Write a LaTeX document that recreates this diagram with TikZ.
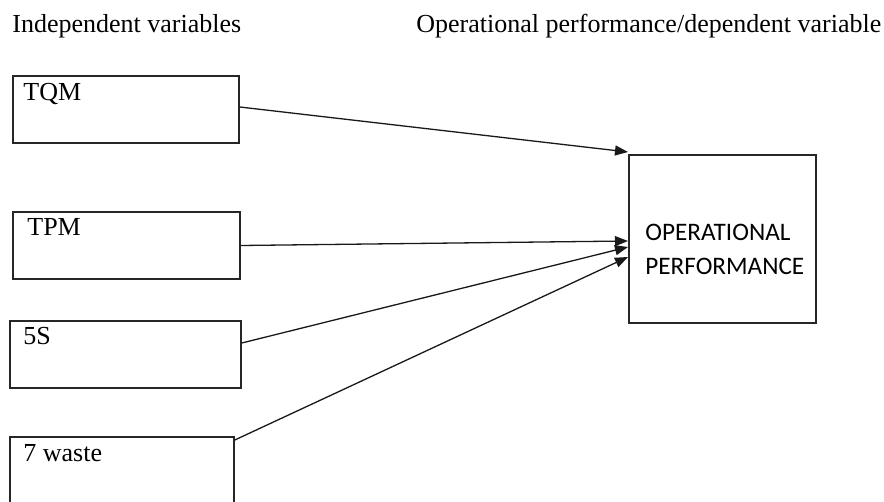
\documentclass[tikz,border=0pt]{standalone}
\usepackage{fontspec}
\setmainfont{Liberation Serif}
\newfontfamily\calib{Carlito}
\usetikzlibrary{arrows.meta}
\begin{document}
\begin{tikzpicture}[x=0.5pt,y=-0.5pt,
  varbox/.style={draw=black!85,line width=0.8pt,rectangle,inner sep=0pt},
  lbl/.style={anchor=base west,inner sep=0pt,font=\fontsize{13}{15}\selectfont},
  conn/.style={draw=black!90,line width=0.65pt,-{Triangle[length=6.5pt,width=5pt]}}]
\clip (0,0) rectangle (884,502);
\fill[white] (0,0) rectangle (884,502);
% titles
\node[lbl] (t1) at (12,33) {Independent variables};
\node[lbl] (t2) at (416,33) {Operational performance/dependent variable};
% boxes
\node[varbox,minimum width=113pt,minimum height=33.5pt] (tqm) at (126,109.5) {};
\node[varbox,minimum width=113.5pt,minimum height=33.5pt] (tpm) at (126.5,245.5) {};
\node[varbox,minimum width=115.5pt,minimum height=33.5pt] (fives) at (125.5,354.5) {};
\node[varbox,minimum width=112pt,minimum height=36pt] (waste) at (122,473) {};
\node[varbox,minimum width=93.5pt,minimum height=84pt] (op) at (722.5,239) {};
% labels
\node[lbl] (l1) at (23,101) {TQM};
\node[lbl] (l2) at (27,236) {TPM};
\node[lbl] (l3) at (23,345) {5S};
\node[lbl] (l4) at (23,461) {7 waste};
\node[inner sep=0pt,align=left,anchor=base west,font=\calib\fontsize{12.6}{17}\selectfont] (opl) at (645,275) {OPERATIONAL\\PERFORMANCE};
% arrow tips
\coordinate (e1) at (628,152);
\coordinate (e2) at (628,241);
\coordinate (e3) at (628,247);
\coordinate (e4) at (628,257);
\draw[conn] ([yshift=1.25pt]tqm.east) -- (e1);
\draw[conn] (tpm.east) -- (e2);
\draw[conn] ([yshift=5.75pt]fives.east) -- (e3);
\draw[conn] ([yshift=16.5pt]waste.east) -- (e4);
\end{tikzpicture}
\end{document}
